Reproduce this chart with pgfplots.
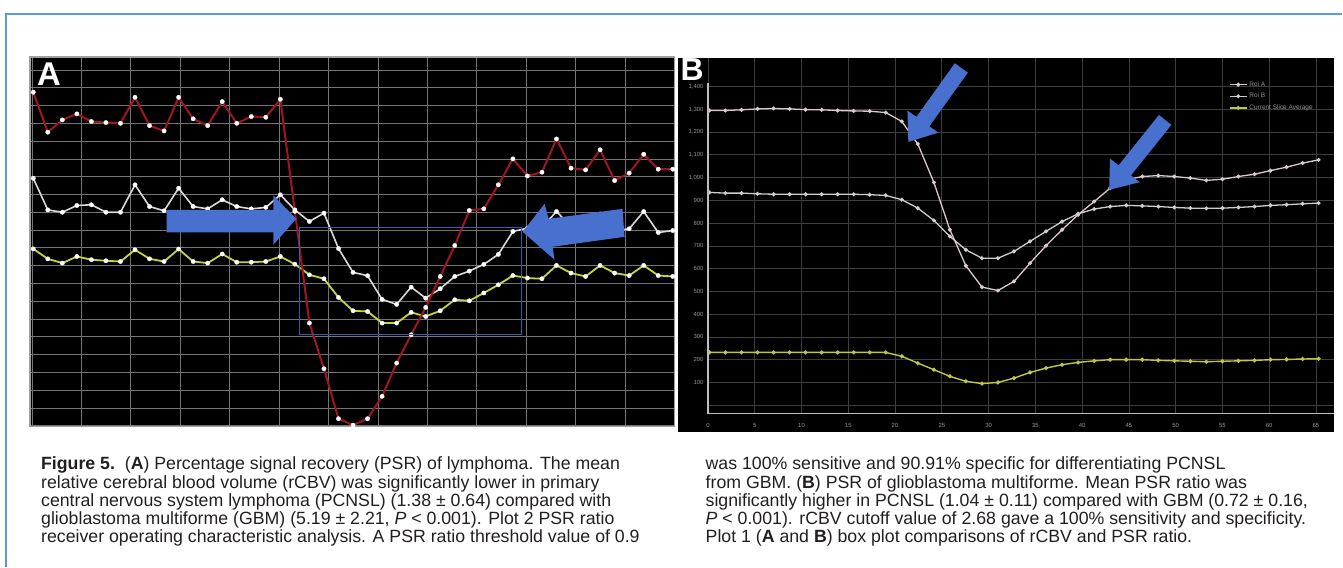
\documentclass[border=0pt]{standalone}
\usepackage{pgfplots}
\usepackage{pgfplotstable}
\pgfplotsset{compat=1.18}
\usepackage{fontspec}
\setmainfont{Liberation Sans}

\definecolor{bordercol}{RGB}{91,155,213}
\definecolor{arrowcol}{RGB}{72,112,206}
\definecolor{rectcol}{RGB}{58,90,168}
\definecolor{redA}{RGB}{160,22,32}
\definecolor{whiteA}{RGB}{222,216,216}
\definecolor{yellowA}{RGB}{200,212,62}
\definecolor{gridA}{RGB}{115,115,120}
\definecolor{gridB}{RGB}{62,62,62}
\definecolor{axB}{RGB}{190,190,190}
\definecolor{tickB}{RGB}{150,150,150}
\definecolor{roiA}{RGB}{220,200,205}
\definecolor{roiB}{RGB}{205,205,210}
\definecolor{avgB}{RGB}{190,200,70}
\definecolor{capcol}{RGB}{35,31,32}

\pgfplotstableread{
i red white yellow
0 1875 1391 994
1 1650 1213 938
2 1719 1200 914
3 1753 1238 951
4 1710 1242 933
5 1704 1200 927
6 1700 1200 923
7 1846 1354 989
8 1687 1232 938
9 1657 1208 923
10 1846 1335 993
11 1725 1232 923
12 1687 1219 914
13 1822 1270 965
14 1700 1232 919
15 1738 1219 919
16 1734 1227 923
17 1835 1298 951
18 1205 1213 908
19 577 1148 848
20 320 1195 826
21 39 996 721
22 3 862 646
23 39 843 642
24 165 710 577
25 352 682 577
26 511 779 637
27 665 717 614
28 839 770 646
29 1013 839 708
30 1210 869 702
31 1219 907 746
32 1354 963 792
33 1500 1092 844
34 1404 1110 830
35 1425 1115 826
36 1612 1204 901
37 1448 1120 858
38 1438 1110 839
39 1551 1190 901
40 1378 1095 858
41 1420 1107 844
42 1526 1204 901
43 1442 1086 844
44 1442 1097 839
}\tblA

\pgfplotstableread{
t roiA roiB avg
0.15 1295 935 232
1.86 1295 932 232
3.58 1298 932 232
5.29 1302 929 232
7.01 1304 927 232
8.72 1302 927 232
10.43 1299 927 232
12.15 1298 927 232
13.86 1295 927 232
15.58 1293 927 232
17.29 1292 925 232
19.00 1286 922 232
20.72 1247 903 215
22.43 1148 866 185
24.15 979 812 156
25.86 771 742 127
27.57 613 683 105
29.29 519 646 95
31.00 504 646 100
32.72 544 676 119
34.43 624 720 144
36.14 701 764 163
37.86 771 807 178
39.57 837 841 188
41.29 895 862 195
43.00 954 873 200
44.71 990 878 200
46.43 1005 876 200
48.14 1009 873 197
49.86 1005 869 195
51.57 998 866 193
53.28 988 865 191
55.00 993 866 193
56.71 1005 869 195
58.43 1015 873 197
60.14 1031 878 200
61.85 1046 881 201
63.57 1064 885 203
65.28 1078 888 204
}\tblB

\begin{document}
\begin{tikzpicture}[x=1bp,y=1bp]
\fill[white] (0,0) rectangle (1343,567);
\draw[bordercol, line width=2bp] (6,0) -- (6,553) -- (1343,553);

% ---------- Panel A ----------
\fill[black] (30,140) rectangle (675,510);
\begin{axis}[
  at={(30bp,140bp)}, anchor=south west,
  width=645bp, height=370bp, scale only axis,
  xmin=-0.227, xmax=44.12, ymin=-5.6, ymax=2073,
  xtick={-0.09,3.31,6.71,10.11,13.51,16.91,20.31,23.71,27.11,30.51,33.91,37.31,40.71,44.11},
  ytick={0,100,...,2000},
  xticklabels={}, yticklabels={},
  major tick length=0pt,
  grid=major,
  major grid style={gridA, line width=0.7bp},
  axis line style={gray!75!white, line width=1.2bp},
]
\addplot[yellowA, line width=1.8bp, mark=*, mark size=2.2pt, mark options={fill=white, draw=white, line width=0.3bp}] table[x=i, y=yellow] {\tblA};
\addplot[whiteA, line width=1.6bp, mark=*, mark size=2.2pt, mark options={fill=white, draw=white, line width=0.3bp}] table[x=i, y=white] {\tblA};
\addplot[redA, line width=2bp, mark=*, mark size=2.2pt, mark options={fill=white, draw=white, line width=0.3bp}] table[x=i, y=red] {\tblA};
\end{axis}

% rectangle and arrows of panel A
\draw[rectcol, line width=1.3bp] (300,232.5) rectangle (521.7,339.3);
\fill[arrowcol] (166.7,357) -- (166.7,334.5) -- (273.5,334.5) -- (273.5,322) -- (296.5,348) -- (273.5,371.5) -- (273.5,357) -- cycle;
\fill[arrowcol] (523,335) -- (545,363) -- (549,348) -- (623,358) -- (625,330) -- (553,320) -- (555,307) -- cycle;
\node[anchor=south west, inner sep=0pt, text=white, font=\fontsize{33}{33}\selectfont\bfseries] at (37,481) {A};

% ---------- Panel B ----------
\fill[black] (678,135) rectangle (1335,509);
\begin{axis}[
  at={(708.5bp,153bp)}, anchor=south west,
  width=626.5bp, height=356bp, scale only axis,
  xmin=0, xmax=66.93, ymin=-37.3, ymax=1526,
  axis line style={draw=none},
  xtick={0,5,10,15,20,25,30,35,40,45,50,55,60,65},
  xticklabels={0,5,10,15,20,25,30,35,40,45,50,55,60,65},
  ytick={0,100,...,1400},
  yticklabels={,100,200,300,400,500,600,700,800,900,{1,000},{1,100},{1,200},{1,300},{1,400}},
  major tick length=0pt,
  grid=major,
  major grid style={gridB, line width=0.8bp},
  tick label style={font=\fontsize{6}{6}\selectfont, text=tickB},
  xticklabel style={yshift=-6bp},
  yticklabel style={xshift=-1bp},
  legend style={at={(0.832,0.94)}, anchor=north west, draw=none, fill=none,
    font=\fontsize{6.5}{7}\selectfont, text=tickB, inner sep=0pt, row sep=1.5bp},
  legend cell align=left,
  reverse legend,
]
\addplot[avgB, line width=1.4bp, mark=*, mark size=1.3pt, mark options={fill=white!90!yellow, draw=none}] table[x=t, y=avg] {\tblB};
\addlegendentry{Current Slice Average}
\addplot[roiB, line width=1.3bp, mark=*, mark size=1.3pt, mark options={fill=white, draw=none}] table[x=t, y=roiB] {\tblB};
\addlegendentry{Roi B}
\addplot[roiA, line width=1.3bp, mark=*, mark size=1.3pt, mark options={fill=white, draw=none}] table[x=t, y=roiA] {\tblB};
\addlegendentry{Roi A}
\end{axis}
\draw[axB, line width=1.3bp] (708.5,484) -- (708.5,153) -- (1335,153);

% arrows of panel B
\fill[arrowcol] (955.5,503.7) -- (917.1,450) -- (908.1,456.4) -- (909,425) -- (939.0,434.2) -- (930.1,440.6) -- (968.5,494.3) -- cycle;
\fill[arrowcol] (1159.8,452) -- (1119.4,401.5) -- (1110.8,408.4) -- (1110,377) -- (1140.4,384.6) -- (1131.8,391.5) -- (1172.2,442) -- cycle;
\node[anchor=south west, inner sep=0pt, text=white, font=\fontsize{32}{32}\selectfont\bfseries] at (681,486.5) {B};

% ---------- Caption ----------
\begin{scope}[every node/.style={anchor=base west, inner sep=0pt, text=capcol, font=\fontsize{17.8}{17.9}\selectfont}]
\node at (41,96.7) {\textbf{Figure 5.}\ \ (\textbf{A}) Percentage signal recovery (PSR) of lymphoma. The mean};
\node at (41,78.5) {relative cerebral blood volume (rCBV) was significantly lower in primary};
\node at (41,60.3) {central nervous system lymphoma (PCNSL) (1.38 ± 0.64) compared with};
\node at (41,42.1) {glioblastoma multiforme (GBM) (5.19 ± 2.21, \textit{P} < 0.001). Plot 2 PSR ratio};
\node at (41,23.9) {receiver operating characteristic analysis. A PSR ratio threshold value of 0.9};
\node at (706,96.7) {was 100\% sensitive and 90.91\% specific for differentiating PCNSL};
\node at (706,78.5) {from GBM. (\textbf{B}) PSR of glioblastoma multiforme. Mean PSR ratio was};
\node at (706,60.3) {significantly higher in PCNSL (1.04 ± 0.11) compared with GBM (0.72 ± 0.16,};
\node at (706,42.1) {\textit{P} < 0.001). rCBV cutoff value of 2.68 gave a 100\% sensitivity and specificity.};
\node at (706,23.9) {Plot 1 (\textbf{A} and \textbf{B}) box plot comparisons of rCBV and PSR ratio.};
\end{scope}
\end{tikzpicture}
\end{document}
